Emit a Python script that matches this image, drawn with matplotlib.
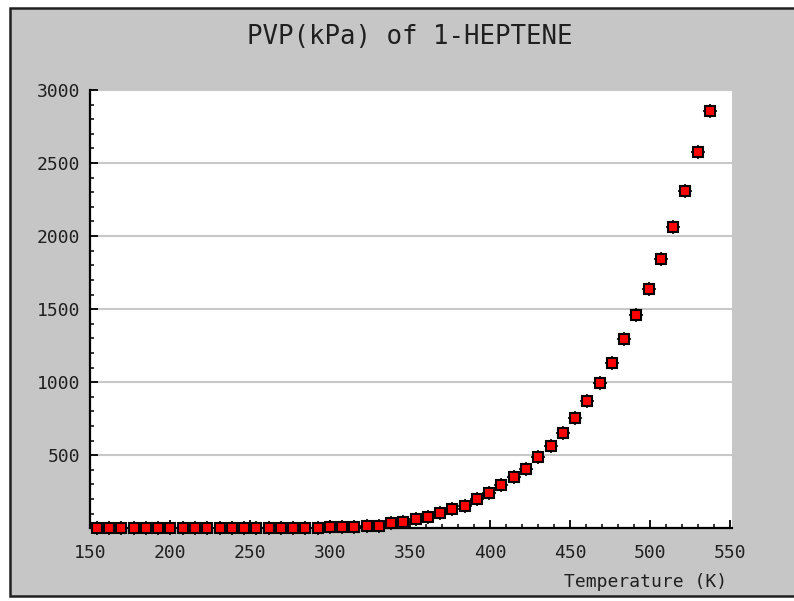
import matplotlib
matplotlib.use("Agg")
import matplotlib.pyplot as plt
from matplotlib.patches import Rectangle
from matplotlib.ticker import MultipleLocator

# Temperature (K) and vapour pressure (kPa)
suhu = [154.3, 161.9, 169.6, 177.2, 184.9, 192.6, 200.2, 207.9, 215.5, 223.2,
        230.9, 238.5, 246.2, 253.8, 261.5, 269.2, 276.8, 284.5, 292.1, 299.8,
        307.5, 315.1, 322.8, 330.4, 338.1, 345.8, 353.4, 361.1, 368.7, 376.4,
        384.1, 391.7, 399.4, 407.0, 414.7, 422.4, 430.0, 437.7, 445.3, 453.0,
        460.7, 468.3, 476.0, 483.6, 491.3, 499.0, 506.6, 514.3, 521.9, 529.6,
        537.3]
tekanan = [0.0, 0.0, 0.0, 0.0, 0.0, 0.0, 0.0, 0.0, 0.0, 0.0,
           0.2, 0.3, 0.4, 0.6, 0.9, 1.4, 2.2, 3.3, 4.8, 7,
           7, 9, 18, 18, 34, 45, 62, 75, 107, 130,
           155, 199, 240, 297, 351, 404, 486, 566, 651, 758,
           870, 993, 1130, 1295, 1459, 1637, 1842, 2064, 2310, 2573,
           2858]

judul = "PVP(kPa) of 1-HEPTENE"
label_x = "Temperature (K)"
x_ticks = [150, 200, 250, 300, 350, 400, 450, 500, 550]
y_ticks = [500, 1000, 1500, 2000, 2500, 3000]

abu = "#c6c6c6"
font = "DejaVu Sans Mono"

fig = plt.figure(figsize=(7.94, 6.01), dpi=100)
fig.patch.set_facecolor("white")

# grey panel with dark frame
W, H = 794, 601
panel = Rectangle((10 / W, (H - 596) / H), 800 / W, 588 / H,
                  transform=fig.transFigure, facecolor=abu,
                  edgecolor="#202020", linewidth=1.8, zorder=-1)
fig.patches.append(panel)

ax = fig.add_axes([90 / W, (H - 528.3) / H, 642 / W, (528.3 - 90) / H])
ax.set_zorder(1)
ax.set_facecolor("white")
ax.set_xlim(150, 551)
ax.set_ylim(0, 3000)

for s in ["top", "right"]:
    ax.spines[s].set_visible(False)
for s in ["left", "bottom"]:
    ax.spines[s].set_linewidth(1.6)
    ax.spines[s].set_color("black")

ax.set_xticks(x_ticks)
ax.set_yticks(y_ticks)
ax.xaxis.set_minor_locator(MultipleLocator(10))
ax.yaxis.set_minor_locator(MultipleLocator(100))
ax.tick_params(which="major", direction="in", length=5.5, width=1.3, color="black")
ax.tick_params(which="minor", direction="in", length=3.2, width=1.1, color="black")
ax.tick_params(axis="x", which="major", pad=11)
ax.tick_params(axis="y", which="major", pad=7)
for lab in ax.get_xticklabels() + ax.get_yticklabels():
    lab.set_fontfamily(font)
    lab.set_fontsize(13)
    lab.set_color("#202020")

ax.yaxis.grid(True, color="#c8c8c8", linewidth=1.5)
ax.set_axisbelow(True)

# marker: black cross behind a red square with black rim
ax.plot(suhu, tekanan, linestyle="none", marker="+", markersize=10,
        markeredgewidth=1.2, color="black", clip_on=False, zorder=3)
ax.plot(suhu, tekanan, linestyle="none", marker="s", markersize=6.5,
        markerfacecolor="red", markeredgecolor="black", markeredgewidth=1.5,
        clip_on=False, zorder=4)

fig.text(410 / W, 1 - 37 / H, judul, ha="center", va="center",
         fontfamily=font, fontsize=18.5, color="#202020")
fig.text(727 / W, 1 - 582 / H, label_x, ha="right", va="center",
         fontfamily=font, fontsize=13, color="#202020")

fig.savefig("out.png", dpi=100, facecolor=fig.get_facecolor())
